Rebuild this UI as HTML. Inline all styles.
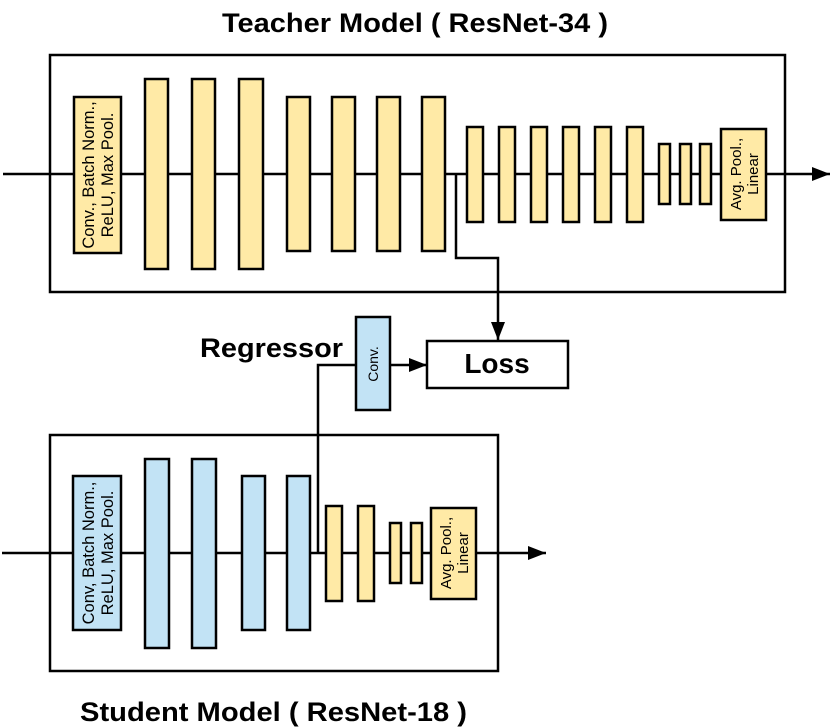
<!DOCTYPE html>
<html><head><meta charset="utf-8"><style>html,body{margin:0;padding:0;background:#fff}svg{display:block}</style></head>
<body>
<svg width="830" height="728" viewBox="0 0 830 728" xmlns="http://www.w3.org/2000/svg" font-family="Liberation Sans, Arial, sans-serif">
<defs>
<marker id="b" markerWidth="18" markerHeight="14" refX="18" refY="7" orient="auto" markerUnits="userSpaceOnUse"><path d="M0,0 L18,7 L0,14 z" fill="#000"/></marker></defs>
<g stroke="#000" stroke-width="2.5" fill="none">
<rect x="50" y="55" width="735" height="237" fill="#fff"/>
<rect x="50" y="435" width="448" height="236" fill="#fff"/>
<line x1="3" y1="174" x2="830" y2="174" marker-end="url(#b)"/>
<line x1="2" y1="553" x2="546" y2="553" marker-end="url(#b)"/>
<polyline points="456,174 456,258 498,258 498,340" marker-end="url(#b)"/>
<polyline points="318,553 318,365 427,365" marker-end="url(#b)"/>
</g>
<g stroke="#000" stroke-width="2.5" fill="#FFEAA6">
<rect x="74" y="97" width="47" height="156"/>
<rect x="145" y="79" width="23" height="190"/>
<rect x="192" y="79" width="23" height="190"/>
<rect x="239" y="79" width="24" height="190"/>
<rect x="287" y="97" width="23" height="154"/>
<rect x="332" y="97" width="23" height="154"/>
<rect x="377" y="97" width="23" height="154"/>
<rect x="422" y="97" width="23" height="154"/>
<rect x="467" y="127" width="16" height="95"/>
<rect x="499" y="127" width="16" height="95"/>
<rect x="531" y="127" width="16" height="95"/>
<rect x="563" y="127" width="16" height="95"/>
<rect x="595" y="127" width="16" height="95"/>
<rect x="627" y="127" width="16" height="95"/>
<rect x="659" y="144" width="11" height="60"/>
<rect x="680" y="144" width="11" height="60"/>
<rect x="700" y="144" width="11" height="60"/>
<rect x="721" y="129" width="45" height="91"/>
<rect x="326" y="506" width="16" height="95"/>
<rect x="358" y="506" width="16" height="95"/>
<rect x="390" y="523" width="11" height="60"/>
<rect x="411" y="523" width="11" height="60"/>
<rect x="431" y="508" width="45" height="91"/>
</g>
<g stroke="#000" stroke-width="2.5" fill="#C2E3F5">
<rect x="73" y="476" width="48" height="154"/>
<rect x="145" y="459" width="24" height="189"/>
<rect x="192" y="459" width="24" height="189"/>
<rect x="242" y="476" width="23" height="154"/>
<rect x="287" y="476" width="23" height="154"/>
<rect x="356" y="317" width="34" height="93"/>
</g>
<rect x="427" y="341" width="141" height="47" fill="#fff" stroke="#000" stroke-width="2.5"/>
<g font-size="16.5" fill="#000" text-anchor="middle">
<text transform="translate(98,175) rotate(-90)"><tspan x="0" dy="-4">Conv., Batch Norm.,</tspan><tspan x="0" dy="19">ReLU, Max Pool.</tspan></text>
<text transform="translate(98,553) rotate(-90)"><tspan x="0" dy="-4">Conv, Batch Norm.,</tspan><tspan x="0" dy="19">ReLU, Max Pool.</tspan></text>
<text transform="translate(744,174) rotate(-90)" font-size="15"><tspan x="0" dy="-3">Avg. Pool.,</tspan><tspan x="0" dy="17">Linear</tspan></text>
<text transform="translate(454,553) rotate(-90)" font-size="15"><tspan x="0" dy="-3">Avg. Pool.,</tspan><tspan x="0" dy="17">Linear</tspan></text>
<text transform="translate(378,364) rotate(-90)" font-size="14">Conv.</text>
</g>
<g font-weight="bold" font-size="27" fill="#000">
<text x="222" y="32" textLength="386" lengthAdjust="spacingAndGlyphs">Teacher Model ( ResNet-34 )</text>
<text x="80" y="721" textLength="387" lengthAdjust="spacingAndGlyphs">Student Model ( ResNet-18 )</text>
<text x="200" y="357" textLength="143" lengthAdjust="spacingAndGlyphs">Regressor</text>
<text x="497" y="373" text-anchor="middle" font-size="28">Loss</text>
</g>
</svg>
</body></html>
